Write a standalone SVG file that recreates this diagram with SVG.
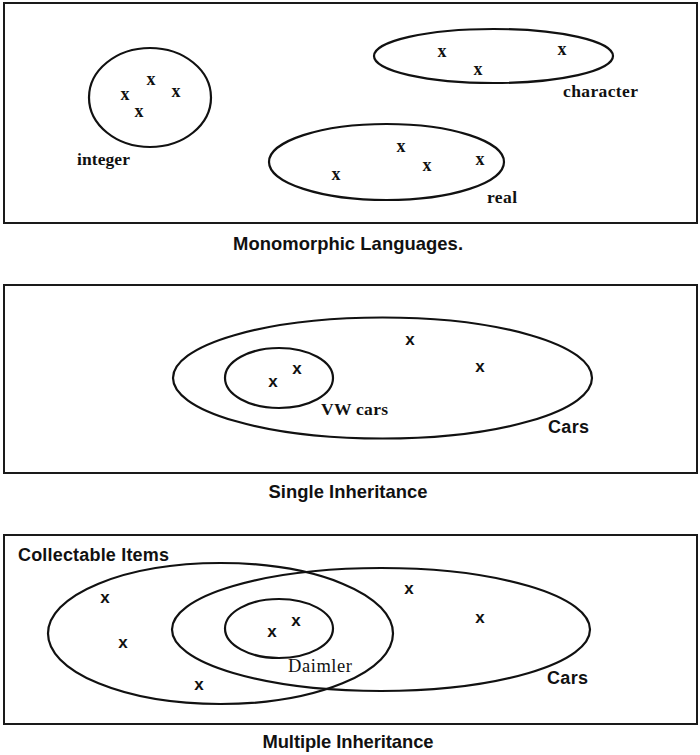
<svg xmlns="http://www.w3.org/2000/svg" width="700" height="755" viewBox="0 0 700 755">
  <style>
    .frame { fill: none; stroke: #1a1a1a; stroke-width: 2; }
    .set { fill: none; stroke: #111; stroke-width: 2.2; }
    .serif { font-family: "Liberation Serif", "Times New Roman", serif; font-weight: bold; fill: #111; }
    .sans { font-family: "Liberation Sans", Arial, sans-serif; font-weight: bold; fill: #111; }
    .title { font-size: 18.4px; text-anchor: middle; }
    .mark1 { font-family: "Liberation Serif", "Times New Roman", serif; font-weight: bold; font-size: 18px; text-anchor: middle; fill: #111; }
    .mark2 { font-family: "Liberation Sans", Arial, sans-serif; font-weight: bold; font-size: 17px; text-anchor: middle; fill: #111; }
  </style>
  <rect width="700" height="755" fill="#fff"/>

  <!-- Panel 1: monomorphic languages -->
  <g id="panel-monomorphic">
    <rect class="frame" x="4" y="3" width="693" height="220"/>
    <g id="set-integer">
      <ellipse class="set" cx="150" cy="97.5" rx="61" ry="49.5"/>
      <text class="mark1" x="125" y="100">x</text>
      <text class="mark1" x="151" y="85">x</text>
      <text class="mark1" x="176" y="97">x</text>
      <text class="mark1" x="139" y="117">x</text>
      <text class="serif" x="77" y="165" font-size="17.5" textLength="53">integer</text>
    </g>
    <g id="set-character">
      <ellipse class="set" cx="493.5" cy="56" rx="119.5" ry="27"/>
      <text class="mark1" x="442" y="57">x</text>
      <text class="mark1" x="562" y="55">x</text>
      <text class="mark1" x="478" y="75">x</text>
      <text class="serif" x="563" y="97" font-size="17.5" textLength="75">character</text>
    </g>
    <g id="set-real">
      <ellipse class="set" cx="386.5" cy="162" rx="117.5" ry="38"/>
      <text class="mark1" x="336" y="180">x</text>
      <text class="mark1" x="401" y="152">x</text>
      <text class="mark1" x="427" y="171">x</text>
      <text class="mark1" x="480" y="165">x</text>
      <text class="serif" x="487" y="203" font-size="17.5" textLength="30">real</text>
    </g>
    <text class="sans title" x="348" y="250" textLength="230">Monomorphic Languages.</text>
  </g>

  <!-- Panel 2: single inheritance -->
  <g id="panel-single">
    <rect class="frame" x="4" y="285" width="693" height="188"/>
    <g id="set-cars-single">
      <ellipse class="set" cx="382.5" cy="378" rx="209.5" ry="60.5"/>
      <text class="mark2" x="410" y="345">x</text>
      <text class="mark2" x="480" y="372">x</text>
      <text class="sans" x="548" y="433" font-size="18" textLength="41">Cars</text>
    </g>
    <g id="set-vw">
      <ellipse class="set" cx="279" cy="378" rx="54" ry="30"/>
      <text class="mark2" x="273" y="387">x</text>
      <text class="mark2" x="297" y="374">x</text>
      <text class="serif" x="321" y="415" font-size="17.5" textLength="67">VW cars</text>
    </g>
    <text class="sans title" x="348" y="498" textLength="159">Single Inheritance</text>
  </g>

  <!-- Panel 3: multiple inheritance -->
  <g id="panel-multiple">
    <rect class="frame" x="4" y="535" width="693" height="189"/>
    <g id="set-collectable">
      <ellipse class="set" cx="220.5" cy="633.5" rx="172.5" ry="70.5"/>
      <text class="mark2" x="105" y="603">x</text>
      <text class="mark2" x="123" y="648">x</text>
      <text class="mark2" x="199" y="690">x</text>
      <text class="sans" x="18" y="561" font-size="18" textLength="151">Collectable Items</text>
    </g>
    <g id="set-cars-multiple">
      <ellipse class="set" cx="381" cy="629.5" rx="209" ry="61.5"/>
      <text class="mark2" x="409" y="594">x</text>
      <text class="mark2" x="480" y="623">x</text>
      <text class="sans" x="547" y="684" font-size="18" textLength="41">Cars</text>
    </g>
    <g id="set-daimler">
      <ellipse class="set" cx="279" cy="628.5" rx="54" ry="29.5"/>
      <text class="mark2" x="272" y="637">x</text>
      <text class="mark2" x="296" y="626">x</text>
      <text x="288" y="672" font-family="Liberation Serif, Times New Roman, serif" font-size="18.5" fill="#111" textLength="64">Daimler</text>
    </g>
    <text class="sans title" x="348" y="748" textLength="171">Multiple Inheritance</text>
  </g>
</svg>
